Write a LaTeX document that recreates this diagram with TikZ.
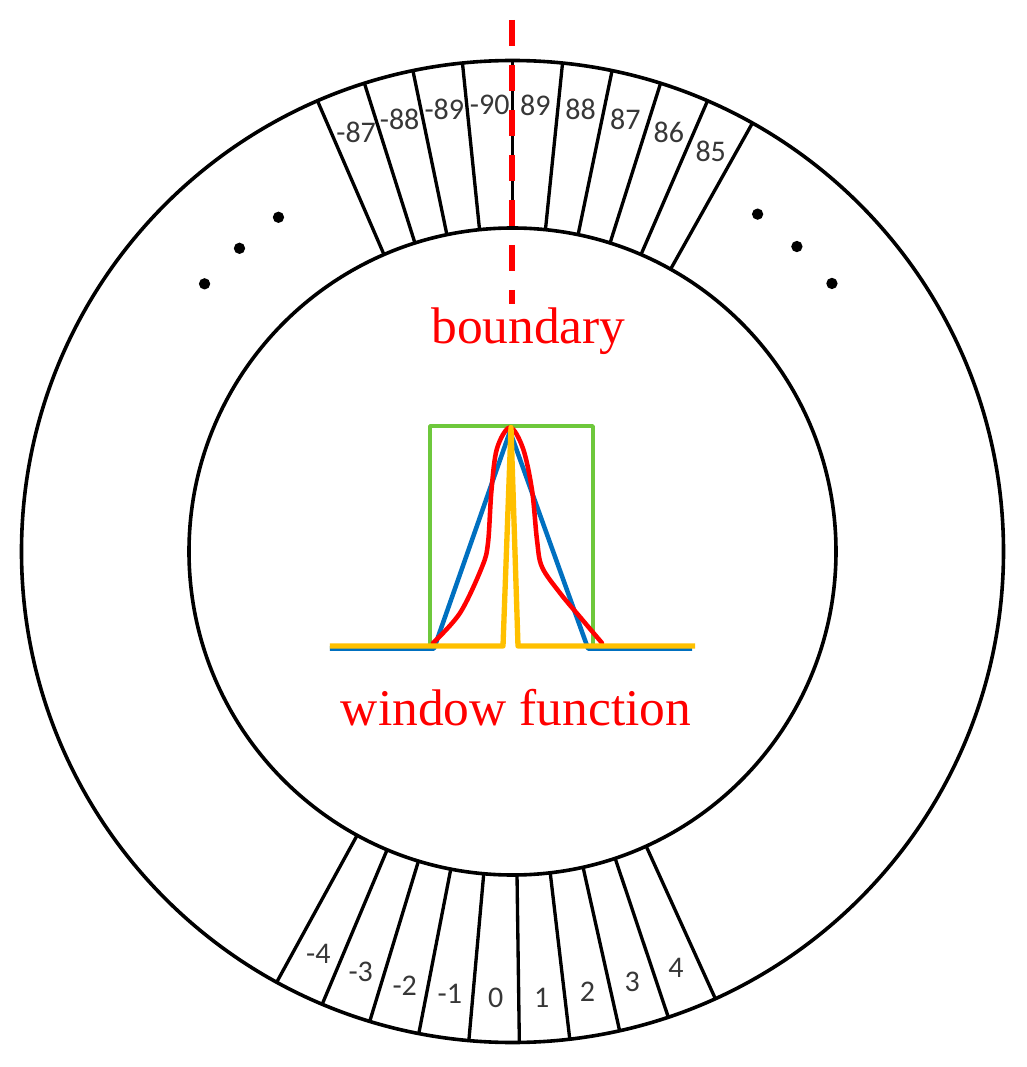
\documentclass[tikz,border=0pt]{standalone}
\usepackage{fontspec}
\setmainfont{Liberation Serif}
\newfontfamily\binfont{Carlito}
\usepackage{tikz}
\definecolor{winred}{RGB}{255, 0, 0}
\definecolor{wingreen}{RGB}{110, 200, 60}
\definecolor{winblue}{RGB}{0, 112, 192}
\definecolor{winyellow}{RGB}{255, 192, 0}
\definecolor{bingray}{RGB}{55, 55, 55}

\begin{document}
\begin{tikzpicture}[
    x=0.75pt, y=0.75pt,
    ring/.style={line width=2.7pt, draw=black},
    spoke/.style={line width=2.5pt, draw=black},
    binlabel/.style={font=\binfont\fontsize{22.5}{27}\selectfont, text=bingray, inner sep=0pt},
    dot/.style={circle, fill=black, inner sep=0pt, minimum size=8.5pt},
    caption/.style={font=\fontsize{38.6}{46}\selectfont, text=winred, inner sep=0pt, anchor=base},
    boundary/.style={draw=winred, line width=3.9pt, dash pattern=on 19.5pt off 14.25pt},
    curve/.style={line width=3.4pt, line join=round, line cap=round}
]
  \useasboundingbox (-512.5,-515.5) rectangle (513.5,551.5);
  \def\Rout{491}
  \def\Rin{323.5}
  \def\Rlab{447}

  % rings
  \draw[ring] (0,0) circle[radius=\Rout];
  \draw[ring] (0,0) circle[radius=\Rin];

  % bins near the top
  \foreach \k in {-4,...,5}
    \draw[spoke] ({90-5.85*(\k)}:\Rin) -- ({90-5.85*(\k)}:\Rout);
  \foreach \m/\t in {-3.5/-87, -2.5/-88, -1.5/-89, -0.5/-90, 0.5/89, 1.5/88, 2.5/87, 3.5/86, 4.5/85}
    \node[binlabel] (top\t) at ({90-5.85*(\m)}:\Rlab) {\t};

  % bins near the bottom
  \foreach \k in {-5,...,4}
    \draw[spoke] ({270.8+5.9*(\k)}:\Rin) -- ({270.8+5.9*(\k)}:\Rout);
  \foreach \t in {-4,...,4}
    \node[binlabel] (bot\t) at ({270.8+5.9*(\t-0.5)}:\Rlab) {\t};

  % dots
  \foreach \a [count=\i] in {125,132,139}
    \node[dot] (ldot\i) at (\a:408) {};
  \foreach \a [count=\i] in {54,47,40}
    \node[dot] (rdot\i) at (\a:417) {};

  % boundary
  \coordinate (btop) at (-0.5,531.5);
  \coordinate (bbot) at (-0.5,247.5);
  \draw[boundary] (btop) -- (bbot);
  \node[caption] (bnd) at (16,207.5) {boundary};

  % window functions
  \draw[curve, wingreen, line width=2.6pt, line cap=butt]
    (-82.5,-94.5) -- (-82.5,125.5) -- (80.5,125.5) -- (80.5,-94.5);
  \draw[curve, winblue, line cap=butt]
    (-182.5,-97) -- (-78.5,-97) -- (-2.5,120) -- (75.5,-97) -- (179.5,-97);
  \draw[curve, winred] plot[smooth, tension=0.55] coordinates {
    (-79.5,-91.5) (-52.5,-61.5) (-30.5,-15.5) (-24.5,8.5) (-21,61.5)
    (-15.5,103) (-2.5,124) (10.5,103) (19.5,61.5) (24.5,11.5)
    (29.5,-15.5) (47.5,-41.5) (67.5,-65.5) (89.5,-91.5)};
  \draw[curve, winyellow, line width=4pt, line cap=butt]
    (-182.5,-94.5) -- (-9.5,-94.5) -- (-1.5,124) -- (5.5,-94.5) -- (182.5,-94.5);
  \node[caption] (win) at (3.5,-173.5) {window function};
\end{tikzpicture}
\end{document}
